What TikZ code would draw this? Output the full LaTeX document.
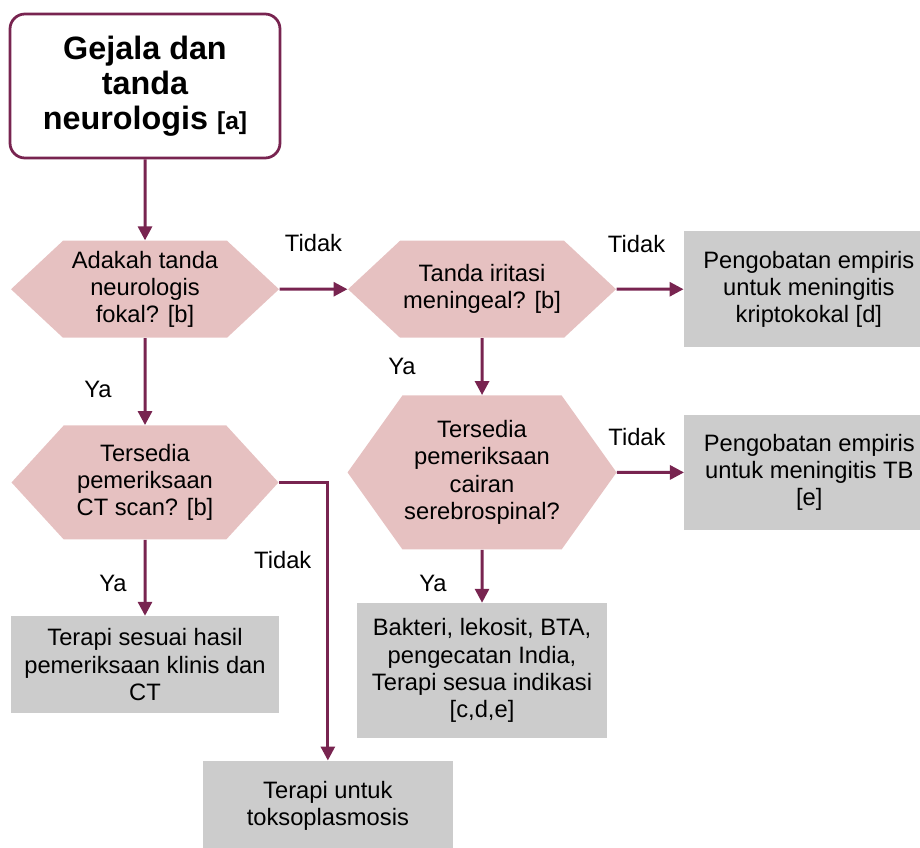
\documentclass[tikz,border=0pt]{standalone}
\usepackage{fontspec}
\setmainfont{Liberation Sans}
\usepackage{tikz}
\usetikzlibrary{positioning,arrows.meta,shapes.symbols,calc}
\definecolor{flowpurple}{RGB}{120,36,80}
\definecolor{askfill}{RGB}{230,193,193}
\definecolor{actfill}{RGB}{204,204,204}
\tikzset{
  startbox/.style={rectangle, rounded corners=0.3cm, draw=flowpurple, line width=0.055cm, fill=white,
                   minimum width=5.4cm, minimum height=2.88cm, align=center,
                   font=\fontsize{18.4}{20}\selectfont\bfseries},
  ask/.style ={signal, signal to=east and west, fill=askfill, draw=none, inner sep=0pt,
               minimum width=5.36cm, minimum height=1.94cm, signal pointer angle=86,
               align=center, font=\fontsize{13.5}{15.5}\selectfont},
  act/.style ={rectangle, fill=actfill, inner sep=0pt, minimum width=5cm, minimum height=2.32cm,
               align=center, font=\fontsize{13.5}{15.5}\selectfont},
  flow/.style ={-{Triangle[length=2.8mm, width=2.8mm]}, line width=0.06cm, draw=flowpurple},
  lbl/.style  ={inner sep=0pt, font=\fontsize{13.5}{15.5}\selectfont},
}
\begin{document}
\begin{tikzpicture}
  \useasboundingbox (0,0) rectangle (18.4,-16.94);
  \node[startbox] (start) at (2.9,-1.72) {Gejala dan\\tanda\\neurologis {\fontsize{14}{20}\selectfont[a]}};
  \node[ask, below=1.62cm of start] (fokal) {Adakah tanda\\neurologis\\fokal? [b]};
  \node[ask, right=1.36cm of fokal] (iritasi) {Tanda iritasi\\meningeal? [b]};
  \node[act, right=1.34cm of iritasi] (kripto) {Pengobatan empiris\\untuk meningitis\\kriptokokal [d]};
  \node[ask, below=1.14cm of iritasi, minimum width=5.38cm, minimum height=3.08cm,
        signal pointer angle=109] (csf) {Tersedia\\pemeriksaan\\cairan\\serebrospinal?};
  \node[act, right=1.34cm of csf, minimum height=2.3cm] (tbc) {Pengobatan empiris\\untuk meningitis TB\\{[e]}};
  \node[act, below=1.06cm of csf, minimum height=2.7cm] (lab)
       {Bakteri, lekosit, BTA,\\pengecatan India,\\Terapi sesua indikasi\\{[c,d,e]}};
  \node[ask, below=1.74cm of fokal, minimum width=5.34cm, minimum height=2.28cm,
        signal pointer angle=95] (ctscan) {Tersedia\\pemeriksaan\\CT scan? [b]};
  \node[act, below=1.52cm of ctscan, minimum width=5.34cm, minimum height=1.94cm] (klinis)
       {Terapi sesuai hasil\\pemeriksaan klinis dan\\CT};
  \node[act, minimum height=1.8cm, anchor=north] (toxo) at ($(klinis.south east)+(0.98,-0.94)$)
       {Terapi untuk\\toksoplasmosis};
  % connectors
  \draw[flow] (start) -- (fokal);
  \draw[flow] (fokal) -- node[lbl, above=0.72cm] {Tidak} (iritasi);
  \draw[flow] (iritasi) -- node[lbl, above=0.7cm, xshift=-0.27cm] {Tidak} (kripto);
  \draw[flow] (iritasi) -- node[lbl, left=1.3cm] {Ya} (csf);
  \draw[flow] (csf) -- node[lbl, above=0.5cm, xshift=-0.27cm] {Tidak} (tbc);
  \draw[flow] (csf) -- node[lbl, left=0.68cm, yshift=-0.14cm] {Ya} (lab);
  \draw[flow] (fokal) -- node[lbl, left=0.64cm, yshift=-0.16cm] {Ya} (ctscan);
  \draw[flow] (ctscan) -- node[lbl, left=0.34cm, yshift=-0.11cm] {Ya} (klinis);
  \draw[flow] (ctscan.east) -| node[lbl, pos=0.64, left=0.3cm] {Tidak} (toxo.north);
\end{tikzpicture}
\end{document}
